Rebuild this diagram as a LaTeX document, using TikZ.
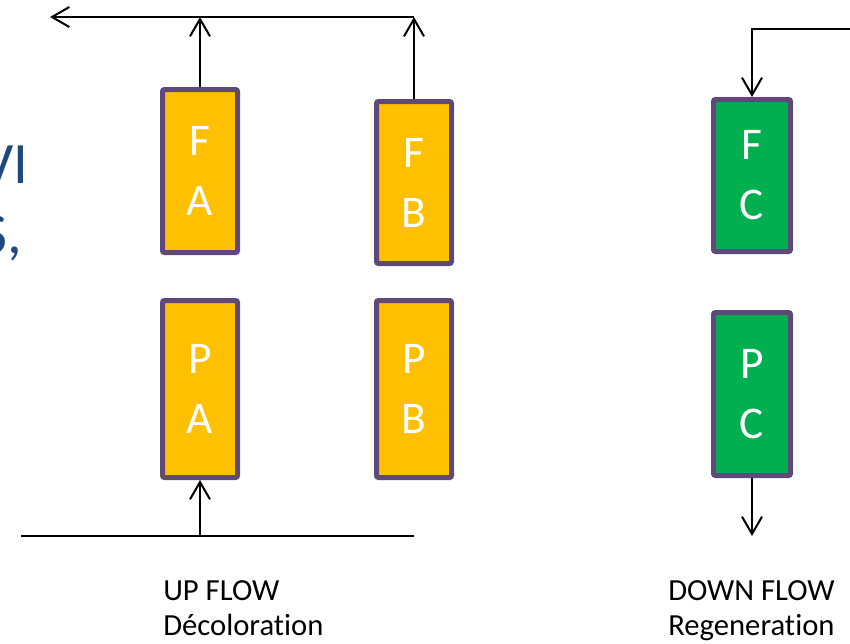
\documentclass[tikz,border=0pt]{standalone}
\usepackage{fontspec}
\setmainfont{Carlito}[RawFeature=-liga]
\usetikzlibrary{arrows.meta}
\definecolor{amber}{HTML}{FFC000}
\definecolor{leaf}{HTML}{00B050}
\definecolor{plum}{HTML}{5F497A}
\definecolor{slate}{HTML}{1F497D}
\begin{document}
\begin{tikzpicture}[x=0.75pt,y=-0.75pt,
  column/.style={draw=plum, line width=3.75pt, rounded corners=1.5pt,
    inner sep=0pt, minimum width=56.25pt, text=white, align=center,
    font=\fontsize{34}{45}\selectfont},
  flow/.style={line width=1.5pt, -{Straight Barb[length=13pt,width=15pt]}},
  pipe/.style={line width=1.5pt},
  caption/.style={anchor=base west, inner sep=0pt, font=\fontsize{23}{26}\selectfont},
  heading/.style={anchor=base east, inner sep=0pt, text=slate, font=\fontsize{44}{52}\selectfont}]
\useasboundingbox (0,0) rectangle (850,643);

% heading text running off the left edge
\node[heading] (h1) at (29,183) {VI};
\node[heading] (h2) at (22,253) {S,};

% up-flow columns
\node[column, fill=amber, minimum height=122.25pt] (FA) at (200,171) {F\\A};
\node[column, fill=amber, minimum height=121.5pt] (FB) at (414,182.5) {F\\B};
\node[column, fill=amber, minimum height=132.75pt] (PA) at (200,389) {P\\A};
\node[column, fill=amber, minimum height=132.75pt] (PB) at (414,389) {P\\B};

% down-flow columns
\node[column, fill=leaf, minimum width=57.75pt, minimum height=114pt] (FC) at (752,175.5) {F\\C};
\node[column, fill=leaf, minimum width=57.75pt, minimum height=122.25pt] (PC) at (752,394) {P\\C};

% collector and feed lines
\coordinate (topL) at (50,17);
\coordinate (topR) at (414,17);
\coordinate (botL) at (21,536);
\coordinate (botR) at (414,536);
\coordinate (inR) at (850,29);
\coordinate (outC) at (751,536);

\draw[flow] (topR) -- (topL);
\draw[flow] (FA.north) -- (FA.north |- topL);
\draw[flow] (FB.north) -- (FB.north |- topL);
\draw[pipe] (botL) -- (botR);
\draw[flow] (PA.south |- botL) -- (PA.south);
\draw[flow] (inR) -| (FC.north);
\draw[flow] (PC.south) -- (PC.south |- outC);

% captions
\node[caption] (up1) at (163,600) {UP FLOW};
\node[caption] (up2) at (163,635) {Décoloration};
\node[caption] (dn1) at (668,600) {DOWN FLOW};
\node[caption] (dn2) at (668,635) {Regeneration};
\end{tikzpicture}
\end{document}
